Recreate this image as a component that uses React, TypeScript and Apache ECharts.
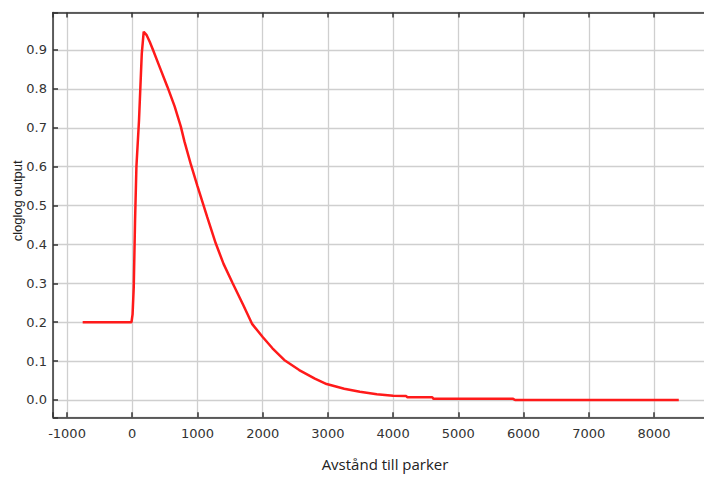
import React, { useEffect, useRef } from "react";
import * as echarts from "echarts";

// Response curve: distance to parks (m) vs cloglog output
const distance: number[] = [
  -760, -400, -12, 5, 23, 43, 64, 104, 146, 176, 218, 268, 319, 400, 540, 650,
  745, 800, 900, 1000, 1150, 1280, 1400, 1540, 1700, 1840, 2000, 2150, 2330,
  2560, 2800, 2980, 3250, 3490, 3750, 4000, 4200, 4220, 4600, 4620, 5840, 5870,
  8380,
];
const output: number[] = [
  0.2, 0.2, 0.2, 0.22, 0.29, 0.46, 0.6, 0.72, 0.89, 0.947, 0.939, 0.921, 0.9,
  0.865, 0.805, 0.755, 0.703, 0.665, 0.605, 0.55, 0.47, 0.403, 0.35, 0.3, 0.245,
  0.195, 0.162, 0.133, 0.103, 0.077, 0.055, 0.041, 0.029, 0.021, 0.015, 0.011,
  0.01, 0.007, 0.007, 0.003, 0.003, 0.0, 0.0,
];

const xMin = -1215;
const xMax = 8966;
const yMin = -0.0445;
const yMax = 0.9964;
const xTitle = "Avstånd till parker";
const yTitle = "cloglog output";

export default function App() {
  const ref = useRef<HTMLDivElement>(null);
  useEffect(() => {
    if (!ref.current) return;
    const chart = echarts.init(ref.current, undefined, { renderer: "svg" });
    const data = distance.map((d, i) => [d, output[i]]);
    const axisLineStyle = { color: "#333", width: 1.5 };
    const tickFont = { fontFamily: "DejaVu Sans", fontSize: 13, color: "#333" };
    chart.setOption({
      animation: false,
      backgroundColor: "#fff",
      grid: {
        left: 53,
        right: 0,
        top: 12.5,
        bottom: 60.7,
        containLabel: false,
        outerBoundsMode: "none",
      },
      xAxis: [
        {
          type: "value",
          min: xMin,
          max: xMax,
          minInterval: 1000,
          maxInterval: 1000,
          position: "bottom",
          name: xTitle,
          nameLocation: "middle",
          nameGap: 39,
          nameMoveOverlap: false,
          nameTextStyle: { fontFamily: "Open Sans", fontSize: 15, color: "#222" },
          axisLine: { show: true, onZero: false, lineStyle: axisLineStyle },
          axisTick: { show: true, inside: true, length: 5, lineStyle: axisLineStyle },
          axisLabel: {
            ...tickFont,
            margin: 10,
            formatter: (v: number) => (Math.abs(v % 1000) < 1e-6 ? String(v) : ""),
          },
          splitLine: { show: true, lineStyle: { color: "#cfcfcf", width: 1.3 } },
        },
        {
          type: "value",
          min: xMin,
          max: xMax,
          minInterval: 1000,
          maxInterval: 1000,
          position: "top",
          axisLine: { show: true, onZero: false, lineStyle: axisLineStyle },
          axisTick: { show: true, inside: true, length: 5, lineStyle: axisLineStyle },
          axisLabel: { show: false },
          splitLine: { show: false },
        },
      ],
      yAxis: {
        type: "value",
        min: yMin,
        max: yMax,
        minInterval: 0.1,
        maxInterval: 0.1,
        name: yTitle,
        nameLocation: "middle",
        nameGap: 29,
        nameMoveOverlap: false,
        nameTextStyle: {
          fontFamily: "Liberation Sans",
          fontSize: 13,
          color: "#222",
          padding: [0, 0, 0, 28],
        },
        axisLine: { show: true, onZero: false, lineStyle: axisLineStyle },
        axisTick: { show: true, inside: true, length: 5, lineStyle: axisLineStyle },
        axisLabel: {
          ...tickFont,
          margin: 6,
          formatter: (v: number) => {
            const r = Math.round(v * 10) / 10;
            return Math.abs(v - r) < 1e-6 ? r.toFixed(1) : "";
          },
        },
        splitLine: { show: true, lineStyle: { color: "#cfcfcf", width: 1.3 } },
      },
      series: [
        {
          type: "line",
          xAxisIndex: 0,
          data,
          showSymbol: false,
          lineStyle: { color: "#ff1a1a", width: 2.5 },
          itemStyle: { color: "#ff1a1a" },
        },
      ],
    });
    return () => chart.dispose();
  }, []);
  return (
    <div
      ref={ref}
      style={{ position: "fixed", left: 0, top: 0, width: 717, height: 478 }}
    />
  );
}
